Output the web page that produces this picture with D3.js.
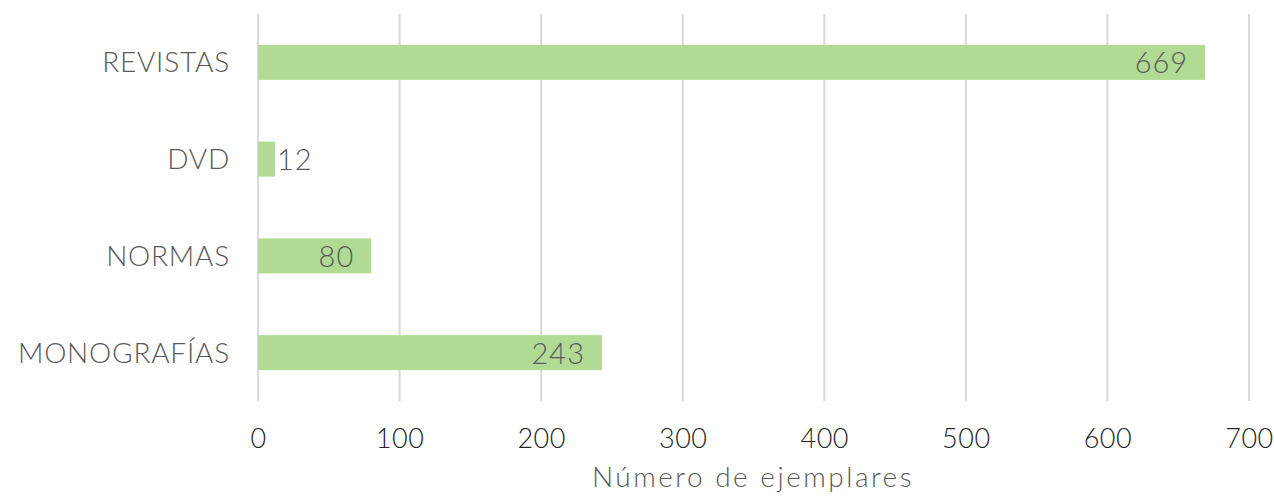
<!DOCTYPE html>
<html>
<head>
<meta charset="utf-8">
<script src="https://cdn.jsdelivr.net/npm/d3@7"></script>
<style>
  body { margin: 0; background: #fff; }
  text { font-family: "Lato", "DejaVu Sans", sans-serif; font-weight: 300; }
</style>
</head>
<body>
<div id="target_area"></div>
<script>
// data
var categories = ["REVISTAS", "DVD", "NORMAS", "MONOGRAFÍAS"];
var values = [669, 12, 80, 243];
var xTicks = [0, 100, 200, 300, 400, 500, 600, 700];
var axisTitle = "Número de ejemplares";

var width = 1274, height = 498;
var margin = {top: 14, right: 25, bottom: 97, left: 258};

var svg = d3.select("#target_area")
	.append("svg")
	.attr("width", width)
	.attr("height", height);

var x = d3.scaleLinear()
	.domain([0, 700])
	.range([margin.left, 1249]);

var y = d3.scaleBand()
	.domain(categories)
	.range([margin.top, height - margin.bottom])
	.paddingInner(0.638)
	.paddingOuter(0.319);

// gridlines
svg.append("g")
	.selectAll("line")
	.data(xTicks)
	.enter().append("line")
	.attr("x1", function (d) { return x(d); })
	.attr("x2", function (d) { return x(d); })
	.attr("y1", margin.top)
	.attr("y2", 401)
	.style("stroke", "#d9d9d9")
	.style("stroke-width", 2);

// bars
svg.append("g")
	.selectAll("rect")
	.data(values)
	.enter().append("rect")
	.attr("x", x(0))
	.attr("y", function (d, i) { return y(categories[i]); })
	.attr("width", function (d) { return x(d) - x(0); })
	.attr("height", y.bandwidth())
	.style("fill", "#b1db95");

// value labels
svg.append("g")
	.selectAll("text")
	.data(values)
	.enter().append("text")
	.attr("x", function (d) { return d < 40 ? x(d) + 2 : x(d) - 17; })
	.attr("y", function (d, i) { return y(categories[i]) + y.bandwidth() / 2; })
	.attr("dy", "0.38em")
	.style("text-anchor", function (d) { return d < 40 ? "start" : "end"; })
	.style("font-size", "29px")
	.style("letter-spacing", "1px")
	.style("fill", "#595959")
	.text(function (d) { return d; });

// category labels
svg.append("g")
	.selectAll("text")
	.data(categories)
	.enter().append("text")
	.attr("x", 230)
	.attr("y", function (d) { return y(d) + y.bandwidth() / 2; })
	.attr("dy", "0.36em")
	.style("text-anchor", "end")
	.style("font-size", "28px")
	.style("letter-spacing", "0.8px")
	.style("fill", "#595959")
	.text(function (d) { return d; });

// x axis labels
var xAxis = d3.axisBottom(x).tickValues(xTicks).tickSize(0).tickPadding(0);
var gx = svg.append("g")
	.attr("transform", "translate(0,429)")
	.call(xAxis);
gx.select(".domain").remove();
gx.selectAll("text")
	.attr("dy", "0.71em")
	.style("font-size", "27px")
	.style("letter-spacing", "0.5px")
	.style("fill", "#262626")
	.style("font-family", "Lato, 'DejaVu Sans', sans-serif")
	.style("font-weight", 300);

svg.append("text")
	.attr("x", 753)
	.attr("y", 477)
	.attr("dy", "0.36em")
	.style("text-anchor", "middle")
	.style("font-size", "28px")
	.style("letter-spacing", "2.5px")
	.style("fill", "#595959")
	.text(axisTitle);
</script>
</body>
</html>
